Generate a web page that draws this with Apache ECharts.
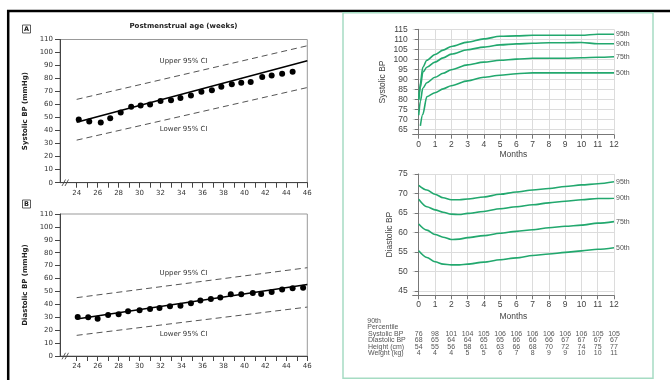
<!DOCTYPE html>
<html><head><meta charset="utf-8">
<style>html,body{margin:0;padding:0;background:#fff}#c{width:670px;height:380px}</style>
<script src="https://cdn.jsdelivr.net/npm/echarts@6/dist/echarts.min.js"></script>
</head><body><div id="c"></div>
<script>
// ---- Left panels (postmenstrual age) ----
const weeksA = [24.2,25.2,26.3,27.2,28.2,29.2,30.1,31.0,32.0,33.0,33.9,34.9,35.9,36.9,37.8,38.8,39.7,40.6,41.7,42.6,43.6,44.6];
const sysA   = [48.6,47.1,46.3,49.6,54.0,58.3,59.3,60.1,62.7,63.4,65.0,67.0,69.8,71.1,73.7,75.7,76.7,77.3,81.1,82.4,83.7,85.2];
const weeksB = [24.1,25.1,26.0,27.0,28.0,28.9,30.0,31.0,31.9,32.9,33.9,34.9,35.8,36.8,37.7,38.7,39.7,40.8,41.6,42.6,43.6,44.6,45.6];
const diaB   = [30.2,30.0,28.9,31.8,32.3,34.6,35.4,36.4,37.2,38.5,39.0,40.8,42.9,44.2,45.4,47.8,47.8,48.8,48.0,49.6,51.6,52.4,52.9];
const lineWeeks = [24, 46];
const fitA   = [46.5, 93.6];
const upperA = [64.0, 105.2];
const lowerA = [32.7, 73.1];
const fitB   = [28.7, 55.4];
const upperB = [45.2, 68.4];
const lowerB = [16.0, 37.9];
const weekTicks  = [24,25,26,27,28,29,30,31,32,33,34,35,36,37,38,39,40,41,42,43,44,45,46];
const weekLabels = [24,26,28,30,32,34,36,38,40,42,44,46];
const ciLabels = ['Upper 95% CI','Lower 95% CI'];
const ciLabelWeek = 34.2;
const ciLabelA = [93.6, 41.3];
const ciLabelB = [64.3, 17.0];

// ---- Right panels (months) ----
const months = [0,1,2,3,4,5,6,7,8,9,10,11,12];
const sysMonths = [0,0.1,0.25,0.5,1,1.5,2,3,4,5,6,7,8,9,10,11,12];
const sys95 = [80,88,96,99.5,102.4,104.6,106.4,108.6,110.2,111.5,111.7,112,112,112,112,112.5,112.5];
const sys90 = [79.5,86,93.5,96,98.6,100.7,102.6,104.8,106.1,107.2,107.7,108,108.3,108.3,108.4,107.8,107.8];
const sys75 = [72,79,85.5,88.3,91,93,94.8,97.2,98.6,99.5,100.1,100.5,100.5,100.5,100.8,101,101.3];
const sys50 = [null,66.7,72.5,81.3,83.3,85.2,86.8,89.2,91,92,92.8,93.2,93.2,93.2,93.2,93.2,93.2];
const sysTicks = [65,70,75,80,85,90,95,100,105,110,115];
const diaMonths = [0,0.5,1,1.5,2,2.5,3,4,5,6,7,8,9,10,11,12];
const dia95 = [72.1,70.9,69.8,68.9,68.4,68.4,68.6,69.1,69.8,70.4,70.9,71.3,71.8,72.2,72.5,73.0];
const dia90 = [68.5,66.6,65.8,65.2,64.7,64.6,64.9,65.4,66.1,66.6,67.1,67.6,68.0,68.4,68.7,68.8];
const dia75 = [62.2,60.6,59.5,58.8,58.2,58.3,58.7,59.2,59.8,60.3,60.7,61.2,61.6,61.9,62.4,62.8];
const dia50 = [55.3,53.6,52.5,51.9,51.7,51.7,51.9,52.4,53.0,53.5,54.1,54.5,54.9,55.3,55.7,56.1];
const diaTicks = [45,50,55,60,65,70,75];
const pctNames = ['95th','90th','75th','50th'];

// ---- Table ----
const tableRows = ['Systolic BP','Diastolic BP','Height (cm)','Weight (kg)'];
const tSys = [76,98,101,104,105,106,106,106,106,106,106,105,105];
const tDia = [68,65,64,64,65,65,66,66,66,67,67,67,67];
const tHeight = [54,55,56,58,61,63,66,68,70,72,74,75,77];
const tWeight = [4,4,4,5,5,6,7,8,9,9,10,10,11];

const LF = '"DejaVu Sans", Verdana, sans-serif';
const RF = '"Liberation Sans", Arial, sans-serif';
const GREEN = '#22a86e';

const pairs = (xs, ys) => xs.map((x,i)=>[x, ys[i]]).filter(p=>p[1]!=null);

function leftX(i){
  return {type:'value', gridIndex:i, min:22.41, max:46,
    axisLine:{show:true, onZero:false, lineStyle:{color:'#444', width:1}},
    axisTick:{show:true, length:5, customValues:weekTicks, lineStyle:{color:'#444'}},
    axisLabel:{show:true, customValues:weekLabels, fontFamily:LF, fontSize:7, color:'#333', margin:7},
    splitLine:{show:false}};
}
function leftY(i, name){
  return {type:'value', gridIndex:i, min:0, max:110, interval:10,
    name:name, nameLocation:'middle', nameGap:31,
    nameTextStyle:{fontFamily:LF, fontSize:7, fontWeight:'bold', color:'#222'},
    axisLine:{show:true, lineStyle:{color:'#444'}},
    axisTick:{show:true, length:5, lineStyle:{color:'#444'}},
    axisLabel:{fontFamily:LF, fontSize:7, color:'#333', margin:7},
    splitLine:{show:false}};
}
function rightX(i, gap){
  return {type:'value', gridIndex:i, min:-0.37, max:12,
    name:'Months', nameLocation:'middle', nameGap:gap,
    nameTextStyle:{fontFamily:RF, fontSize:8.5, color:'#444'},
    axisLine:{show:true, onZero:false, lineStyle:{color:'#777'}},
    axisTick:{show:true, length:4, customValues:months, lineStyle:{color:'#777'}},
    axisLabel:{customValues:months, fontFamily:RF, fontSize:8.5, color:'#444', margin:5},
    splitLine:{show:true, lineStyle:{color:'#dcdcdc', width:1}}};
}
function rightY(i, name, min, max, ticks, gap){
  return {type:'value', gridIndex:i, min:min, max:max,
    name:name, nameLocation:'middle', nameGap:gap,
    nameTextStyle:{fontFamily:RF, fontSize:8.5, color:'#444'},
    axisLine:{show:true, lineStyle:{color:'#777'}},
    axisTick:{show:true, length:4, customValues:ticks, lineStyle:{color:'#777'}},
    axisLabel:{customValues:ticks, fontFamily:RF, fontSize:8.5, color:'#444', margin:5},
    splitLine:{show:true, lineStyle:{color:'#dcdcdc', width:1}}};
}
function dashed(xi, ys){
  return {type:'line', xAxisIndex:xi, yAxisIndex:xi, data:pairs(lineWeeks, ys), symbol:'none',
    lineStyle:{color:'#555', width:1, type:[6,4]}, silent:true};
}
function solid(xi, ys){
  return {type:'line', xAxisIndex:xi, yAxisIndex:xi, data:pairs(lineWeeks, ys), symbol:'none',
    lineStyle:{color:'#000', width:1.5}, silent:true};
}
function ciText(xi, ys){
  return {type:'scatter', xAxisIndex:xi, yAxisIndex:xi, symbolSize:1, itemStyle:{color:'rgba(0,0,0,0)', opacity:1},
    data: ys.map((y,k)=>({value:[ciLabelWeek, y], name:ciLabels[k]})),
    label:{show:true, position:'inside', formatter:p=>p.name, fontFamily:LF, fontSize:7, color:'#333'},
    labelLayout:{hideOverlap:false}};
}
function curve(xi, xs, ys, name){
  return {type:'line', name:name, xAxisIndex:xi, yAxisIndex:xi, data:pairs(xs, ys),
    showSymbol:false, smooth:0.3, smoothMonotone:'x',
    lineStyle:{color:GREEN, width:1.6},
    endLabel:{show:true, formatter:name, fontFamily:RF, fontSize:7, color:'#555', distance:2}};
}

const tableData = [];
[tSys, tDia, tHeight, tWeight].forEach((arr, r)=>{
  arr.forEach((v, m)=>tableData.push([months[m], tableRows[r], v]));
});

const option = {
  animation:false,
  backgroundColor:'#fff',
  grid:[
    {left:60, top:39.5, width:247.3, height:143.2, show:true, borderColor:'#999', borderWidth:1},
    {left:60, top:214, width:247.3, height:142, show:true, borderColor:'#999', borderWidth:1},
    {left:412.7, top:29.3, width:201.3, height:105.4},
    {left:412.7, top:174, width:201.3, height:121.3},
    {left:412.7, top:330.8, width:201.3, height:26}
  ],
  xAxis:[ leftX(0), leftX(1), rightX(2,15), rightX(3,17),
    {type:'value', gridIndex:4, min:-0.37, max:12, show:false} ],
  yAxis:[ leftY(0,'Systolic BP (mmHg)'), leftY(1,'Diastolic BP (mmHg)'),
    rightY(2,'Systolic BP',62.3,115,sysTicks,25.5),
    rightY(3,'Diastolic BP',43.9,75,diaTicks,18),
    {type:'category', gridIndex:4, data:tableRows, inverse:true,
      axisLine:{show:false}, axisTick:{show:false}, splitLine:{show:false},
      axisLabel:{show:true, interval:0, hideOverlap:false, align:'left', margin:44.7, fontFamily:RF, fontSize:7, color:'#555'}} ],
  series:[
    dashed(0, upperA), dashed(0, lowerA), solid(0, fitA),
    {type:'scatter', xAxisIndex:0, yAxisIndex:0, data:pairs(weeksA, sysA), symbolSize:6, itemStyle:{color:'#000', opacity:1}},
    ciText(0, ciLabelA),
    dashed(1, upperB), dashed(1, lowerB), solid(1, fitB),
    {type:'scatter', xAxisIndex:1, yAxisIndex:1, data:pairs(weeksB, diaB), symbolSize:6, itemStyle:{color:'#000', opacity:1}},
    ciText(1, ciLabelB),
    curve(2, sysMonths, sys95, pctNames[0]), curve(2, sysMonths, sys90, pctNames[1]),
    curve(2, sysMonths, sys75, pctNames[2]), curve(2, sysMonths, sys50, pctNames[3]),
    curve(3, diaMonths, dia95, pctNames[0]), curve(3, diaMonths, dia90, pctNames[1]),
    curve(3, diaMonths, dia75, pctNames[2]), curve(3, diaMonths, dia50, pctNames[3]),
    {type:'scatter', xAxisIndex:4, yAxisIndex:4, data:tableData, symbolSize:1, itemStyle:{color:'rgba(0,0,0,0)', opacity:1},
      label:{show:true, position:'inside', formatter:p=>String(p.value[2]), fontFamily:RF, fontSize:7, color:'#555'},
      labelLayout:{hideOverlap:false}}
  ],
  graphic:[
    {type:'line', shape:{x1:7, y1:11, x2:670, y2:11}, style:{stroke:'#000', lineWidth:2.5}},
    {type:'line', shape:{x1:8.2, y1:10, x2:8.2, y2:380}, style:{stroke:'#000', lineWidth:2.5}},
    {type:'rect', shape:{x:343, y:12.8, width:310, height:365.5}, style:{fill:'none', stroke:'#a6dcc3', lineWidth:1.5}},
    {type:'rect', shape:{x:22.5, y:25, width:8, height:8}, style:{fill:'#fff', stroke:'#333', lineWidth:0.8}},
    {type:'text', x:26.5, y:29.2, style:{text:'A', font:'bold 6.5px '+LF, fill:'#222', align:'center', verticalAlign:'middle'}},
    {type:'rect', shape:{x:22.5, y:200, width:8, height:8}, style:{fill:'#fff', stroke:'#333', lineWidth:0.8}},
    {type:'text', x:26.5, y:204.2, style:{text:'B', font:'bold 6.5px '+LF, fill:'#222', align:'center', verticalAlign:'middle'}},
    {type:'text', x:183.5, y:26, style:{text:'Postmenstrual age (weeks)', font:'bold 7px '+LF, fill:'#222', align:'center', verticalAlign:'middle'}},
    {type:'line', shape:{x1:62, y1:186, x2:65.5, y2:179.5}, style:{stroke:'#333', lineWidth:0.8}},
    {type:'line', shape:{x1:65, y1:186, x2:68.5, y2:179.5}, style:{stroke:'#333', lineWidth:0.8}},
    {type:'line', shape:{x1:62, y1:359.3, x2:65.5, y2:352.8}, style:{stroke:'#333', lineWidth:0.8}},
    {type:'line', shape:{x1:65, y1:359.3, x2:68.5, y2:352.8}, style:{stroke:'#333', lineWidth:0.8}},
    {type:'text', x:367.3, y:320.8, style:{text:'90th', font:'7px '+RF, fill:'#555', align:'left', verticalAlign:'middle'}},
    {type:'text', x:367.3, y:326.8, style:{text:'Percentile', font:'7px '+RF, fill:'#555', align:'left', verticalAlign:'middle'}}
  ]
};
const chart = echarts.init(document.getElementById('c'));
chart.setOption(option);
</script>
</body></html>
